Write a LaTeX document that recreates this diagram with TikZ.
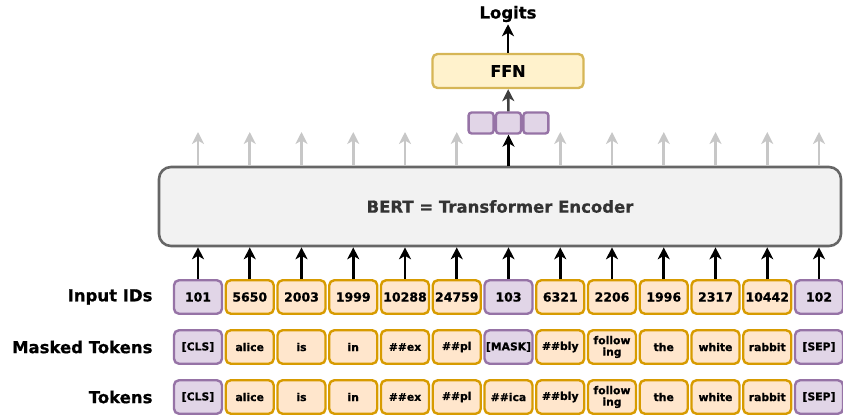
\documentclass[tikz,border=0pt]{standalone}
\usepackage{fontspec}
\setmainfont{DejaVu Sans}[BoldFeatures={FakeBold=0.8}]
\usetikzlibrary{arrows.meta, positioning}
\definecolor{specFill}{HTML}{E1D5E7}
\definecolor{specLine}{HTML}{9673A6}
\definecolor{wordFill}{HTML}{FFE6CC}
\definecolor{wordLine}{HTML}{D79B00}
\definecolor{ffnFill}{HTML}{FFF2CC}
\definecolor{ffnLine}{HTML}{D6B656}
\tikzstyle{upArrow} = [line width=2.6pt, -{Stealth[length=12pt,width=12pt,inset=3.5pt]}]

\begin{document}
\begin{tikzpicture}[
  x=1pt, y=-1pt,
  font=\bfseries,
  tokbox/.style={draw, line width=2.4pt, rounded corners=5pt, inner sep=0pt,
    minimum width=48pt, minimum height=33.5pt, align=center},
  spec/.style={tokbox, fill=specFill, draw=specLine},
  word/.style={tokbox, fill=wordFill, draw=wordLine},
  rowlabel/.style={anchor=east, font=\fontsize{16.5}{18}\selectfont\bfseries},
  ]
  \useasboundingbox (0,0) rectangle (843,417);

  % encoder
  \node[draw=black!60, fill=black!5, line width=2.6pt, rounded corners=12pt,
    minimum width=682pt, minimum height=79pt,
    font=\fontsize{16.5}{18}\selectfont\bfseries, text=black!80]
    (bert) at (500,206.5) {BERT = Transformer Encoder};

  % row labels
  \node[rowlabel] (lids) at (156,297) {Input IDs};
  \node[rowlabel] (lmask) at (156,347) {Masked Tokens};
  \node[rowlabel] (ltok) at (156,397) {Tokens};

  % token columns
  \foreach \i/\id/\mtok/\tok/\kind/\tkind in {
      1/101/[CLS]/[CLS]/spec/spec,
      2/5650/alice/alice/word/word,
      3/2003/is/is/word/word,
      4/1999/in/in/word/word,
      5/10288/\#\#ex/\#\#ex/word/word,
      6/24759/\#\#pl/\#\#pl/word/word,
      7/103/[MASK]/\#\#ica/spec/word,
      8/6321/\#\#bly/\#\#bly/word/word,
      9/2206/{follow\\ing}/{follow\\ing}/word/word,
      10/1996/the/the/word/word,
      11/2317/white/white/word/word,
      12/10442/rabbit/rabbit/word/word,
      13/102/[SEP]/[SEP]/spec/spec} {
    \node[\kind, font=\fontsize{12.5}{14}\selectfont\bfseries]
      (id\i) at ({198+(\i-1)*51.75},297) {\id};
    \node[\kind, font=\fontsize{10.8}{11.5}\selectfont\bfseries]
      (mask\i) at ({198+(\i-1)*51.75},347) {\mtok};
    \node[\tkind, font=\fontsize{10.8}{11.5}\selectfont\bfseries]
      (tok\i) at ({198+(\i-1)*51.75},397) {\tok};
    \draw[upArrow] (id\i) -- (id\i |- bert.south);
  }

  % outputs of the encoder
  \foreach \i in {1,...,6,8,9,...,13} {
    \coordinate (out\i) at ({198+(\i-1)*51.75},132);
    \draw[upArrow, draw=black!22] (bert.north -| out\i) -- (out\i);
  }

  % [MASK] output vector and head
  \node[spec, minimum width=25pt, minimum height=21pt, rounded corners=3pt]
    (vec2) at (508.5,123) {};
  \node[spec, minimum width=25pt, minimum height=21pt, rounded corners=3pt,
    left=0pt of vec2] (vec1) {};
  \node[spec, minimum width=25pt, minimum height=21pt, rounded corners=3pt,
    right=0pt of vec2] (vec3) {};
  \node[draw=ffnLine, fill=ffnFill, line width=2.4pt, rounded corners=5pt,
    minimum width=151pt, minimum height=34pt,
    font=\fontsize{16}{18}\selectfont\bfseries] (ffn) at (508,71) {FFN};
  \node[font=\fontsize{16.5}{18}\selectfont\bfseries, inner sep=2pt]
    (logits) at (508,14) {Logits};

  \draw[upArrow] (bert.north -| vec2) -- (vec2);
  \draw[upArrow, draw=black!75] (vec2) -- (ffn);
  \draw[upArrow] (ffn) -- (logits);
\end{tikzpicture}
\end{document}
